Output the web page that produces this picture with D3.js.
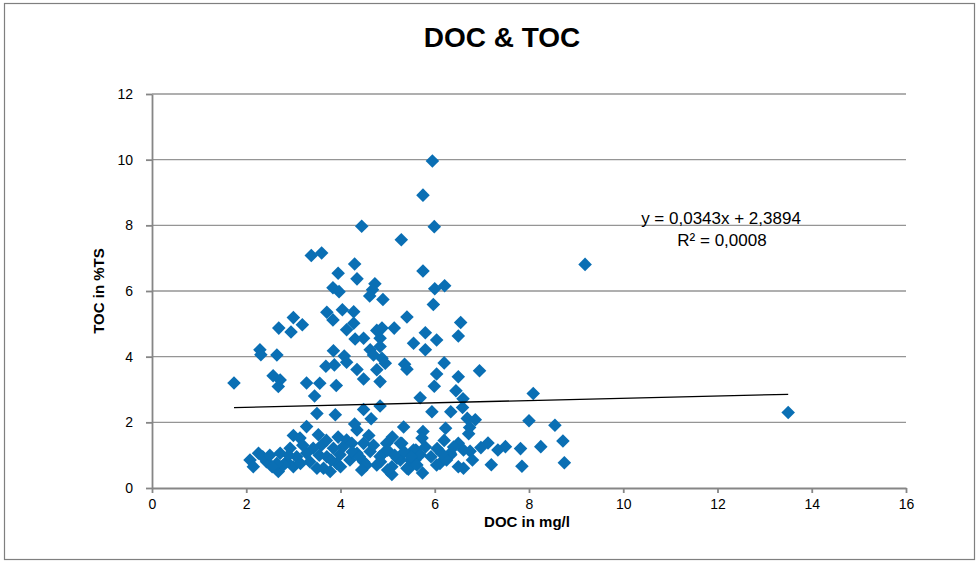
<!DOCTYPE html>
<html>
<head>
<meta charset="utf-8">
<title>DOC & TOC</title>
<script src="https://cdn.jsdelivr.net/npm/d3@7"></script>
<style>
body { margin:0; background:#fff; }
text { font-family: "Liberation Sans", Arial, sans-serif; fill:#000; }
.grid line { stroke:#959595; stroke-width:1.3; }
.axis path, .axis line { stroke:#868686; stroke-width:1.8; }
.axis text { font-size:14px; }
.title { font-size:28px; font-weight:bold; }
.axisTitle { font-size:15px; font-weight:bold; }
.trend { font-size:17px; }
</style>
</head>
<body>
<svg id="myGraph" width="978" height="563"></svg>
<script>
// DOC in mg/l (x) / TOC in %TS (y)
var docValues = [
 5.95,5.75,5.99,4.45,5.29,3.38,3.60,5.75,9.19,4.30,3.95,4.35,4.73,6.00,6.21,3.84,3.97,4.68,4.62,4.90,
 5.97,5.41,3.71,3.84,4.04,4.28,3.00,3.19,2.69,2.95,4.13,4.28,4.31,4.49,4.77,4.88,5.14,4.84,6.55,6.50,
 5.80,5.55,6.04,5.80,4.63,4.84,2.29,2.31,2.65,3.85,4.08,4.13,4.70,4.88,4.95,3.69,3.87,4.35,4.49,4.77,
 4.84,6.20,5.36,5.41,6.04,6.50,6.95,5.99,6.45,6.60,5.69,8.09,1.74,2.57,2.72,2.68,3.28,3.56,3.91,3.45,
 13.50,
 3.50,3.89,4.49,4.65,4.84,5.94,6.34,6.59,6.69,6.86,8.00,8.55,3.28,3.00,3.14,3.53,4.35,5.34,5.75,5.73,
 6.23,6.74,6.72,8.72,8.25,7.82,7.50,7.34,7.13,6.98,6.20,6.50,5.30,5.60,4.98,5.92,6.11,6.34,6.61,6.75,
 6.61,7.20,7.85,8.75,5.74,5.44,5.09,4.84,5.27,5.58,
 2.26,2.08,2.15,2.43,2.68,2.72,2.93,2.86,3.07,3.00,2.79,3.28,3.35,3.50,3.60,3.42,3.71,3.64,2.65,
 4.13,4.24,4.49,5.27,3.85,3.99,4.35,4.63,4.91,5.55,5.69,6.33,3.92,4.20,4.49,4.77,5.09,5.41,6.04,5.20,
 5.48,3.78,6.50,
 2.35,2.55,2.90,3.20,3.55,3.80,4.05,4.25,4.40,4.55,4.70,4.85,5.00,5.15,5.35,5.50,5.80,6.05,6.25,6.40,
 6.80,3.95,4.60,5.10,3.70,4.30,2.50,3.15,4.00,4.45,5.00,5.62,6.15
];
var tocValues = [
 9.96,8.92,7.96,7.97,7.56,7.08,7.16,6.61,6.81,6.82,6.54,6.37,6.22,6.07,6.16,6.10,5.98,6.04,5.85,5.74,
 5.59,5.21,5.35,5.12,5.43,5.37,5.19,4.97,4.87,4.75,4.82,5.02,4.54,4.56,4.80,4.87,4.87,4.56,5.04,4.63,
 4.73,4.41,4.51,4.21,4.21,4.31,4.21,4.06,4.05,4.18,4.02,3.83,4.05,3.95,3.80,3.71,3.75,3.61,3.32,3.60,
 3.24,3.81,3.77,3.62,3.47,3.39,3.57,3.10,2.96,2.72,2.75,2.88,3.20,3.42,3.29,3.09,3.20,3.19,3.12,2.80,
 2.30,
 2.27,2.23,2.39,2.11,2.50,2.32,2.32,2.45,2.12,2.08,2.05,1.91,1.87,1.60,1.52,1.62,1.77,1.86,1.72,1.52,
 1.82,1.84,1.65,1.43,1.26,1.20,1.26,1.16,1.37,1.23,1.45,1.36,1.36,1.16,1.36,0.95,0.75,1.01,1.16,1.12,
 0.60,0.71,0.66,0.77,0.46,0.57,0.41,0.96,0.85,0.85,
 1.06,0.85,0.65,0.80,0.50,1.06,1.21,0.80,0.95,0.65,0.70,1.06,0.80,0.60,1.31,1.21,0.95,0.60,0.75,
 1.46,1.36,1.36,1.36,1.21,1.01,1.06,1.11,1.06,1.16,1.01,1.06,0.75,0.85,0.80,0.70,0.65,0.60,0.70,0.91,
 0.85,0.50,0.65,
 0.95,0.65,1.00,1.30,1.00,0.85,1.25,1.10,0.95,0.70,1.30,0.80,1.15,1.00,1.10,0.95,1.25,1.20,0.85,1.25,
 0.85,1.55,1.60,1.55,1.45,1.95,1.00,0.75,0.65,0.55,0.55,0.70,1.05
];
var xTicks = [0,2,4,6,8,10,12,14,16];
var yTicks = [0,2,4,6,8,10,12];
var trendSlope = 0.0343;	// lineare Trendlinie
var trendIntercept = 2.3894;
var trendLabels = ["y = 0,0343x + 2,3894", "R² = 0,0008"];

window.addEventListener("load",function(){
var svg = d3.select("#myGraph");
var left = 152, right = 906, top = 94, bottom = 488;

var xScale = d3.scaleLinear().domain([0,16]).range([left,right]);
var yScale = d3.scaleLinear().domain([0,12]).range([bottom,top]);

// Rahmen
svg.append("rect")
 .attr("x",4.5).attr("y",3.5).attr("width",970).attr("height",556)
 .attr("fill","none").attr("stroke","#7f7f7f").attr("stroke-width",1.2);

// Gitternetzlinien
svg.append("g").attr("class","grid")
 .selectAll("line").data(yTicks.filter(function(d){ return d > 0; }))
 .enter().append("line")
 .attr("x1",left).attr("x2",right)
 .attr("y1",function(d){ return yScale(d); })
 .attr("y2",function(d){ return yScale(d); });

// Achsen
svg.append("g").attr("class","axis")
 .attr("transform","translate(0,"+bottom+")")
 .call(d3.axisBottom(xScale).tickValues(xTicks).tickSizeInner(5).tickSizeOuter(0).tickPadding(6));
svg.append("g").attr("class","axis")
 .attr("transform","translate("+left+",0)")
 .call(d3.axisLeft(yScale).tickValues(yTicks).tickSizeInner(6).tickSizeOuter(0).tickPadding(13));
svg.selectAll(".axis text").attr("font-family",null).attr("font-size",null);

// Punkte
var points = docValues.map(function(d,i){ return [d, tocValues[i]]; });
var diamond = d3.symbol().type(d3.symbolSquare).size(92);
svg.append("g").selectAll("path").data(points)
 .enter().append("path")
 .attr("d",diamond)
 .attr("fill","#0a6fb4")
 .attr("transform",function(d){ return "translate("+xScale(d[0])+","+yScale(d[1])+") rotate(45)"; });

// Trendlinie
var xMin = d3.min(docValues), xMax = d3.max(docValues);
svg.append("line")
 .attr("x1",xScale(xMin)).attr("y1",yScale(trendSlope*xMin+trendIntercept))
 .attr("x2",xScale(xMax)).attr("y2",yScale(trendSlope*xMax+trendIntercept))
 .attr("stroke","#000").attr("stroke-width",1.3);

svg.selectAll(".trendText").data(trendLabels)
 .enter().append("text").attr("class","trend")
 .attr("x",function(d,i){ return i==0 ? 721 : 722; })
 .attr("y",function(d,i){ return 224 + i*22; })
 .attr("text-anchor","middle")
 .text(function(d){ return d; });

// Titel
svg.append("text").attr("class","title")
 .attr("x",502).attr("y",47).attr("text-anchor","middle").text("DOC & TOC");
svg.append("text").attr("class","axisTitle")
 .attr("x",527).attr("y",527).attr("text-anchor","middle").text("DOC in mg/l");
svg.append("text").attr("class","axisTitle")
 .attr("transform","translate(104,291) rotate(-90)").attr("text-anchor","middle").text("TOC in %TS");
});
</script>
</body>
</html>
